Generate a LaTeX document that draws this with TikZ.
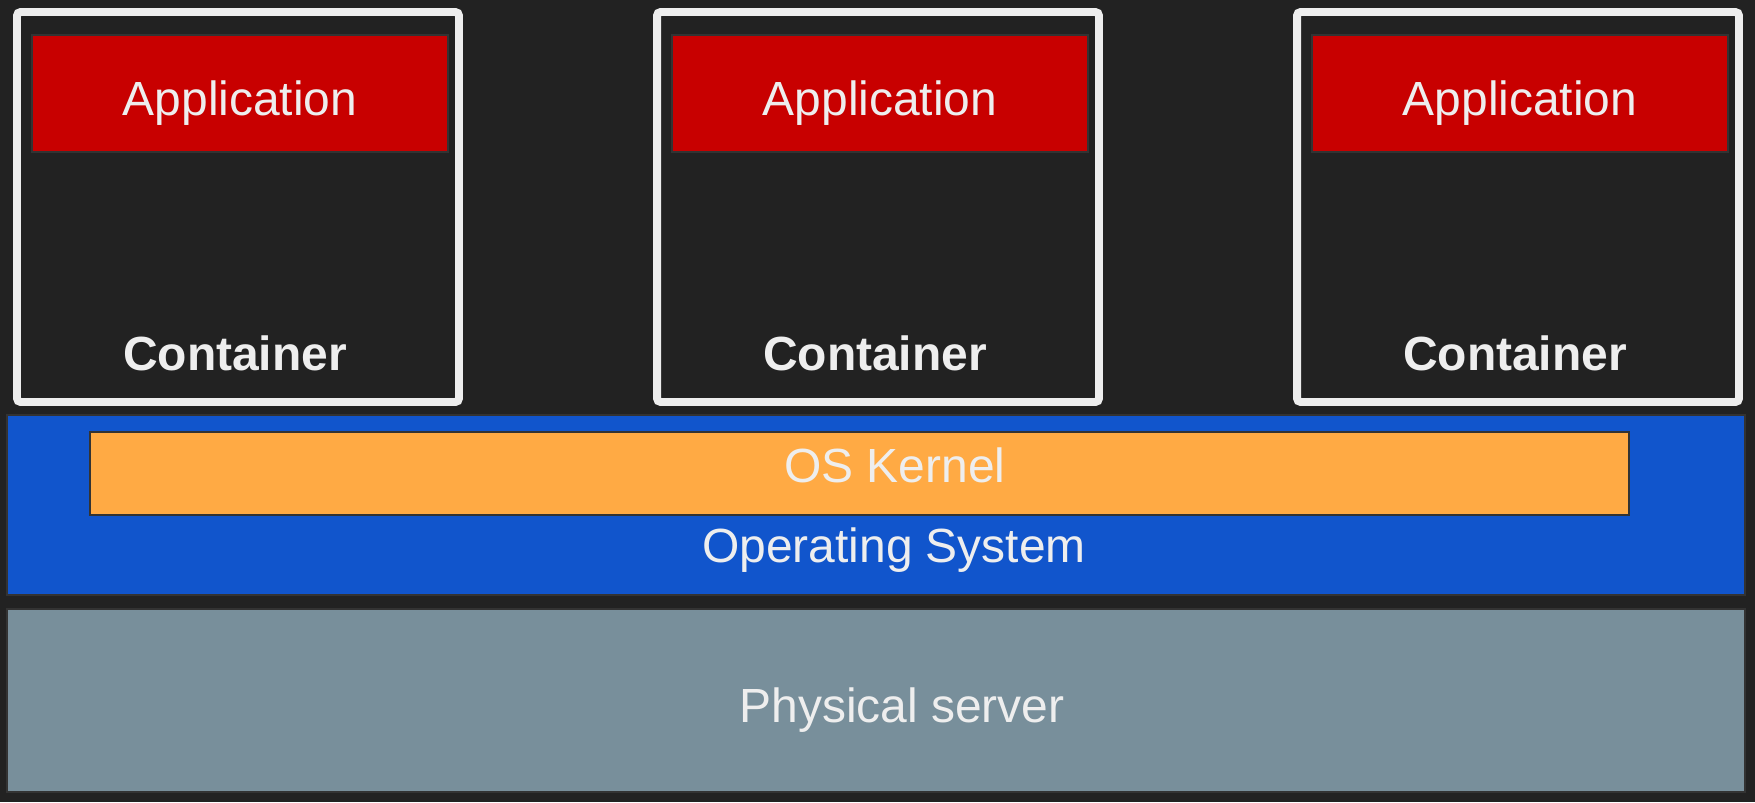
\documentclass[tikz,border=0pt]{standalone}
\usepackage{fontspec}
\setmainfont{Liberation Sans}

\definecolor{bg}{HTML}{222222}
\definecolor{fg}{HTML}{EEEEEE}
\definecolor{edge}{HTML}{333333}
\definecolor{appred}{HTML}{C80000}
\definecolor{osblue}{HTML}{1155CC}
\definecolor{kernorange}{HTML}{FFAA44}
\definecolor{hwgray}{HTML}{788F9B}

\begin{document}
\begin{tikzpicture}[x=0.02cm, y=-0.02cm,
    layer/.style={rectangle, draw=edge, line width=0.85pt, inner sep=0pt},
    lbl/.style={text=fg, anchor=base, inner sep=0pt, font=\fontsize{27.3}{32}\selectfont}]

  \fill[bg] (0,0) rectangle (1755,802);

  \foreach\name in {0,1,2}{
      \pgfmathsetmacro\cx{238+640*\name}
  	\node[rectangle, draw=fg, line width=4.5pt, rounded corners=2pt, minimum width=8.84cm, minimum height=7.8cm] (cont\name) at (\cx, 207) {};
      \node[layer, fill=appred, minimum width=8.32cm, minimum height=2.34cm] (app\name) at (\cx+2, 93.5) {};
      \node[lbl] (apptext\name) at (\cx+2, 115) {Application};
      \node[lbl, font=\fontsize{27.3}{32}\selectfont\bfseries] (conttext\name) at (\cx-3, 370) {Container};
  }

  \node[layer, fill=osblue, minimum width=34.76cm, minimum height=3.6cm] (os) at (876, 505) {};
  \node[layer, fill=kernorange, minimum width=30.78cm, minimum height=1.66cm] (kernel) at (859.5, 473.5) {};
  \node[lbl] (kerneltext) at (895, 482) {OS Kernel};
  \node[lbl] (ostext) at (894, 562) {Operating System};

  \node[layer, fill=hwgray, minimum width=34.76cm, minimum height=3.66cm] (server) at (876, 700.5) {};
  \node[lbl] (servertext) at (902, 722) {Physical server};
\end{tikzpicture}
\end{document}
